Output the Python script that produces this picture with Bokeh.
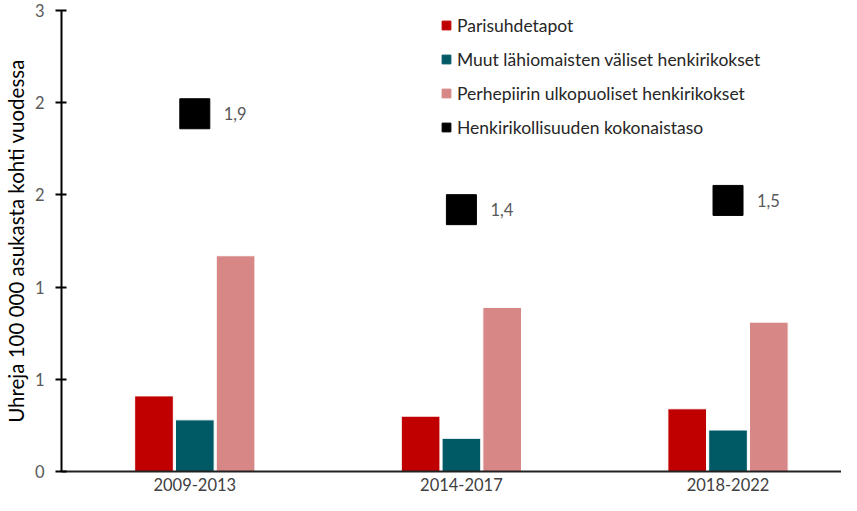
from bokeh.plotting import figure
from bokeh.models import Range1d, FixedTicker, Legend, LegendItem
from bokeh.core.properties import value
from bokeh.embed import file_html
from bokeh.resources import INLINE

# ---- data ----
categories = ["2009-2013", "2014-2017", "2018-2022"]
parisuhde = [0.41, 0.30, 0.34]
muut = [0.28, 0.18, 0.225]
perhepiiri = [1.17, 0.89, 0.81]
kokonais = [1.94, 1.42, 1.47]
kokonais_labels = ["1,9", "1,4", "1,5"]
series_names = ["Parisuhdetapot", "Muut lähiomaisten väliset henkirikokset",
                "Perhepiirin ulkopuoliset henkirikokset", "Henkirikollisuuden kokonaistaso"]
y_ticks = [0.0, 0.5, 1.0, 1.5, 2.0, 2.5]
y_tick_labels = ["0", "1", "1", "2", "2", "3"]
y_title = "Uhreja 100 000 asukasta kohti vuodessa"

# ---- styling ----
colors = ["#C00000", "#005A66", "#D88787"]
FONT = "Lato"
W, H = 841, 495
left, right, top, bottom = 54, 0, 10, 24
frame_w = W - left - right
cat_px = 269.0
x_end = frame_w / cat_px

p = figure(width=W, height=H, output_backend="svg", toolbar_location=None,
           x_range=Range1d(0, x_end), y_range=Range1d(0, 2.5),
           min_border_left=left, min_border_right=right,
           min_border_top=top, min_border_bottom=bottom)
p.outline_line_color = None
p.xgrid.visible = False
p.ygrid.visible = False
p.background_fill_color = "white"
p.border_fill_color = "white"

centers = [i + 0.5 for i in range(len(categories))]
bw = 0.145
offsets = [-0.153, 0.0, 0.153]
series = [parisuhde, muut, perhepiiri]
for s, off, c in zip(series, offsets, colors):
    p.vbar(x=[cx + off for cx in centers], top=s, bottom=0, width=bw,
           fill_color=c, line_color="white", line_width=1)

tot = p.scatter(x=centers, y=kokonais, marker="square", size=30,
                fill_color="black", line_color="black")
p.text(x=centers, y=kokonais, text=kokonais_labels, x_offset=29,
       text_align="left", text_baseline="middle", text_color="#595959",
       text_font=value(FONT), text_font_size="16.5px")

# legend proxies (placed outside the visible range)
proxies = [p.scatter(x=[-10], y=[-10], marker="square", fill_color=c, line_color=c)
           for c in colors]
items = [LegendItem(label=series_names[i], renderers=[proxies[i]]) for i in range(3)]
items.append(LegendItem(label=series_names[3], renderers=[tot]))
legend = Legend(items=items, location=(374, 333), border_line_color=None,
                background_fill_alpha=0, padding=0, margin=0, spacing=12,
                glyph_width=22, glyph_height=22, label_height=22, label_standoff=0,
                label_text_font=FONT, label_text_font_size="17.5px",
                label_text_color="#262626")
p.add_layout(legend)

# axes
p.yaxis.ticker = FixedTicker(ticks=y_ticks)
p.yaxis.major_label_overrides = dict(zip(y_ticks, y_tick_labels))
p.yaxis.axis_line_width = 2
p.yaxis.axis_line_color = "black"
p.yaxis.major_tick_line_width = 2
p.yaxis.major_tick_line_color = "black"
p.yaxis.major_tick_in = 5
p.yaxis.major_tick_out = 6
p.yaxis.minor_tick_line_color = None
p.yaxis.major_label_standoff = 11
p.yaxis.major_label_text_font = FONT
p.yaxis.major_label_text_font_size = "16.5px"
p.yaxis.major_label_text_color = "#595959"
p.yaxis.axis_label = y_title
p.yaxis.axis_label_text_font = FONT
p.yaxis.axis_label_text_font_size = "20.5px"
p.yaxis.axis_label_text_font_style = "normal"
p.yaxis.axis_label_text_color = "#000000"
p.yaxis.axis_label_standoff = 4

p.xaxis.ticker = FixedTicker(ticks=centers)
p.xaxis.major_label_overrides = dict(zip(centers, categories))
p.xaxis.axis_line_width = 2
p.xaxis.axis_line_color = "#222222"
p.xaxis.major_tick_line_color = None
p.xaxis.minor_tick_line_color = None
p.xaxis.major_tick_in = 0
p.xaxis.major_tick_out = 0
p.xaxis.major_label_standoff = 6
p.xaxis.major_label_text_font = FONT
p.xaxis.major_label_text_font_size = "16.5px"
p.xaxis.major_label_text_color = "#404040"

open("out.html", "w").write(file_html(p, INLINE))
